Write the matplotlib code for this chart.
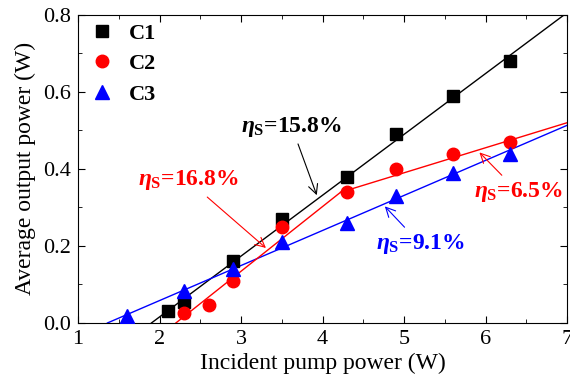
import numpy as np
import matplotlib
matplotlib.use("Agg")
import matplotlib.pyplot as plt
from matplotlib.ticker import MultipleLocator, FormatStrFormatter

plt.rcParams['font.family'] = ['Liberation Serif', 'DejaVu Serif']
plt.rcParams['mathtext.fontset'] = 'custom'
plt.rcParams['mathtext.rm'] = 'Liberation Serif:bold'
plt.rcParams['mathtext.it'] = 'Liberation Serif:italic:bold'
plt.rcParams['mathtext.bf'] = 'Liberation Serif:bold'

# measured data
pump_c1 = [2.1, 2.3, 2.9, 3.5, 4.3, 4.9, 5.6, 6.3]
c1_out = [0.03, 0.055, 0.16, 0.27, 0.38, 0.49, 0.59, 0.68]

pump_c2 = [2.3, 2.6, 2.9, 3.5, 4.3, 4.9, 5.6, 6.3]
c2_out = [0.026, 0.047, 0.11, 0.25, 0.34, 0.40, 0.44, 0.47]

pump_c3 = [1.6, 2.3, 2.9, 3.5, 4.3, 4.9, 5.6, 6.3]
c3_out = [0.018, 0.083, 0.14, 0.21, 0.26, 0.33, 0.39, 0.44]

# linear fits: slope, x where y = 0, x range drawn
c1_fit = (0.158, 1.90, 1.90, 7.0)
c3_fit = (0.091, 1.36, 1.36, 7.0)
c2_fit_low = (0.168, 2.20, 2.20, 4.22)
c2_fit_high = (0.065, -1.0, 4.22, 7.0)

fig = plt.figure(figsize=(5.7, 3.91), dpi=100)
ax = fig.add_axes([0.137, 0.174, 0.858, 0.788])

for (slope, x0, xa, xb), color in [(c1_fit, 'black'), (c3_fit, 'blue'),
                                   (c2_fit_low, 'red'), (c2_fit_high, 'red')]:
    xs = np.array([xa, xb])
    ax.plot(xs, slope * (xs - x0), color=color, lw=1.0, zorder=2)

ax.plot(pump_c1, c1_out, 's', color='black', ms=8.5, label='C1', zorder=3)
ax.plot(pump_c2, c2_out, 'o', color='red', ms=9, label='C2', zorder=3)
ax.plot(pump_c3, c3_out, '^', color='blue', ms=10, label='C3', zorder=3)

ax.set_xlim(1, 7)
ax.set_ylim(0, 0.8)
ax.xaxis.set_major_locator(MultipleLocator(1))
ax.xaxis.set_minor_locator(MultipleLocator(0.5))
ax.yaxis.set_major_locator(MultipleLocator(0.2))
ax.yaxis.set_minor_locator(MultipleLocator(0.1))
ax.yaxis.set_major_formatter(FormatStrFormatter('%.1f'))
ax.tick_params(which='both', direction='in', top=True, right=True, labelsize=16)
ax.tick_params(which='major', length=5, pad=5)
ax.tick_params(which='minor', length=3)
ax.set_xlabel('Incident pump power (W)', fontsize=17, labelpad=3)
ax.set_ylabel('Average output power (W)', fontsize=17, labelpad=5)

ax.legend(loc='upper left', bbox_to_anchor=(-0.017, 1.02), frameon=False,
          prop={'weight': 'bold', 'size': 16},
          handletextpad=0.4, labelspacing=0.45, borderaxespad=0.25,
          handlelength=1.6)

ann = dict(fontsize=17, fontweight='bold', ha='center', va='center')
ax.annotate(r'$\eta_{\rm S}$=15.8%', xy=(3.94, 0.325), xytext=(3.62, 0.51),
            color='black',
            arrowprops=dict(arrowstyle='->', color='black', lw=0.8), **ann)
ax.annotate(r'$\eta_{\rm S}$=16.8%', xy=(3.33, 0.19), xytext=(2.35, 0.37),
            color='red',
            arrowprops=dict(arrowstyle='->', color='red', lw=0.8), **ann)
ax.annotate(r'$\eta_{\rm S}$=6.5%', xy=(5.9, 0.448), xytext=(6.4, 0.34),
            color='red',
            arrowprops=dict(arrowstyle='->', color='red', lw=0.8), **ann)
ax.annotate(r'$\eta_{\rm S}$=9.1%', xy=(4.74, 0.308), xytext=(5.2, 0.205),
            color='blue',
            arrowprops=dict(arrowstyle='->', color='blue', lw=0.8), **ann)

fig.savefig('out.png', dpi=100)
